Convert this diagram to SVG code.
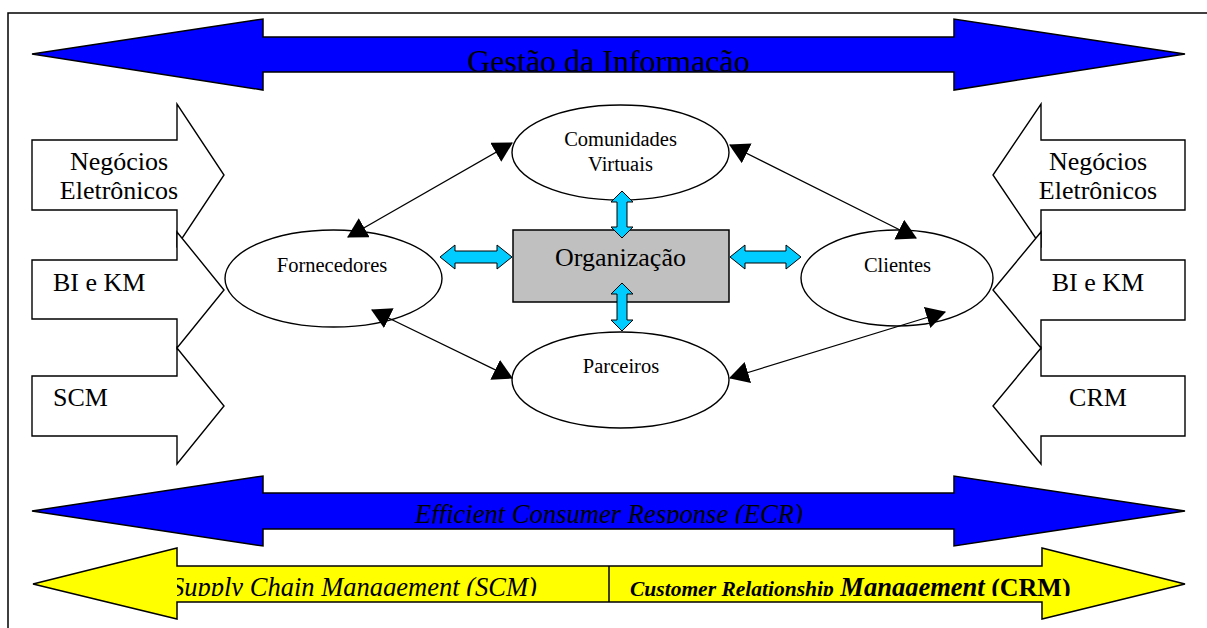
<svg xmlns="http://www.w3.org/2000/svg" width="1207" height="628" viewBox="0 0 1207 628">
<style>
.big{stroke:#000;stroke-width:1.5;stroke-linejoin:miter}
.blk{fill:#fff;stroke:#000;stroke-width:1.4}
.ell{fill:#fff;stroke:#000;stroke-width:1.4}
.cy{fill:#00ccff;stroke:#000;stroke-width:1}
.t{font-family:"Liberation Serif","Times New Roman",serif;fill:#000}
.conn{stroke:#000;stroke-width:1.3;fill:none;marker-start:url(#ah);marker-end:url(#ah)}
</style>
<defs>
<marker id="ah" markerUnits="userSpaceOnUse" markerWidth="20" markerHeight="22" viewBox="0 0 18 20" refX="17" refY="10" orient="auto-start-reverse">
<path d="M0,0 L18,10 L0,20 z" fill="#000"/>
</marker>
<clipPath id="c1"><rect x="263" y="37" width="691" height="34.5"/></clipPath>
<clipPath id="c2"><rect x="263" y="493" width="691" height="30.5"/></clipPath>
<clipPath id="c3"><rect x="177" y="566" width="920" height="30"/></clipPath>
</defs>
<rect width="1207" height="628" fill="#fff"/>
<g id="frame" fill="none" stroke="#000" stroke-width="1.5">
<path d="M8,628 V13 H1207"/>
</g>
<g id="gestao">
<polygon class="big" fill="#0000ff" points="32,54 263,19 263,37 954,37 954,19 1185,54 954,90 954,72 263,72 263,90"/>
<text class="t" clip-path="url(#c1)" x="608.5" y="72" font-size="32" text-anchor="middle">Gestão da Informação</text>
</g>
<g id="left-negocios">
<polygon class="blk" points="32,140 177,140 177,104 224,175 177,246 177,210 32,210"/>
<text class="t" font-size="26" text-anchor="middle"><tspan x="119" y="170">Negócios</tspan><tspan x="119" y="199">Eletrônicos</tspan></text>
</g>
<g id="left-bikm">
<polygon class="blk" points="32,260 177,260 177,232 224,290 177,348 177,319 32,319"/>
<text class="t" font-size="26" x="53" y="291">BI e KM</text>
</g>
<g id="left-scm">
<polygon class="blk" points="32,376 177,376 177,348 224,406 177,464 177,436 32,436"/>
<text class="t" font-size="26" x="53" y="406">SCM</text>
</g>
<g id="right-negocios">
<polygon class="blk" points="1185,140 1041,140 1041,104 993,175 1041,246 1041,210 1185,210"/>
<text class="t" font-size="26" text-anchor="middle"><tspan x="1098" y="170">Negócios</tspan><tspan x="1098" y="199">Eletrônicos</tspan></text>
</g>
<g id="right-bikm">
<polygon class="blk" points="1185,260 1041,260 1041,232 993,290 1041,348 1041,320 1185,320"/>
<text class="t" font-size="26" x="1098" y="291" text-anchor="middle">BI e KM</text>
</g>
<g id="right-crm">
<polygon class="blk" points="1185,376 1041,376 1041,348 993,406 1041,464 1041,436 1185,436"/>
<text class="t" font-size="26" x="1098" y="406" text-anchor="middle">CRM</text>
</g>
<g id="comunidades">
<ellipse class="ell" cx="620.5" cy="152.5" rx="108.5" ry="47.5"/>
<text class="t" font-size="20.5" text-anchor="middle"><tspan x="620.5" y="146">Comunidades</tspan><tspan x="620.5" y="171">Virtuais</tspan></text>
</g>
<g id="fornecedores">
<ellipse class="ell" cx="333.5" cy="278.5" rx="108.5" ry="48.5"/>
<text class="t" font-size="20.5" x="332" y="272" text-anchor="middle">Fornecedores</text>
</g>
<g id="clientes">
<ellipse class="ell" cx="897" cy="278" rx="96" ry="48"/>
<text class="t" font-size="20.5" x="897.5" y="272" text-anchor="middle">Clientes</text>
</g>
<g id="parceiros">
<ellipse class="ell" cx="620.5" cy="380" rx="108.5" ry="48"/>
<text class="t" font-size="20.5" x="621" y="373" text-anchor="middle">Parceiros</text>
</g>
<g id="organizacao">
<rect x="513" y="230" width="216" height="72" fill="#c0c0c0" stroke="#000" stroke-width="1.5"/>
<text class="t" font-size="26" x="620.5" y="266" text-anchor="middle">Organização</text>
</g>
<g id="connectors">
<line class="conn" x1="348" y1="237" x2="512" y2="143"/>
<line class="conn" x1="372" y1="310" x2="512" y2="378"/>
<line class="conn" x1="730" y1="145" x2="916" y2="238"/>
<line class="conn" x1="730" y1="378" x2="945" y2="312"/>
<polygon class="cy" points="622,191 633,202 627,202 627,227 633,227 622,238 611,227 617,227 617,202 611,202"/>
<polygon class="cy" points="622,283 633,294 627,294 627,320 633,320 622,331 611,320 617,320 617,294 611,294"/>
<polygon class="cy" points="440,257 455,245 455,251 497,251 497,245 512,257 497,269 497,263 455,263 455,269"/>
<polygon class="cy" points="730,257 745,245 745,251 786,251 786,245 801,257 786,269 786,263 745,263 745,269"/>
</g>
<g id="ecr">
<polygon class="big" fill="#0000ff" points="32,511 263,476 263,493 954,493 954,476 1185,511 954,546 954,529 263,529 263,546"/>
<text class="t" clip-path="url(#c2)" x="609" y="523" font-size="26.6" font-style="italic" text-anchor="middle">Efficient Consumer Response (ECR)</text>
</g>
<g id="scm-crm">
<polygon class="big" fill="#ffff00" points="33,584 177,548 177,566 1042,566 1042,548 1185,584 1042,619 1042,602 177,602 177,619"/>
<line x1="609" y1="566" x2="609" y2="602" stroke="#000" stroke-width="1.5"/>
<text class="t" clip-path="url(#c3)" x="171" y="596" font-size="26.5" font-style="italic">Supply Chain Management (SCM)</text>
<text class="t" clip-path="url(#c3)" x="630" y="596" font-weight="bold"><tspan font-size="21.5" font-style="italic">Customer Relationship</tspan><tspan font-size="26.5" font-style="italic"> Management</tspan><tspan font-size="26"> (CRM)</tspan></text>
</g>
</svg>
